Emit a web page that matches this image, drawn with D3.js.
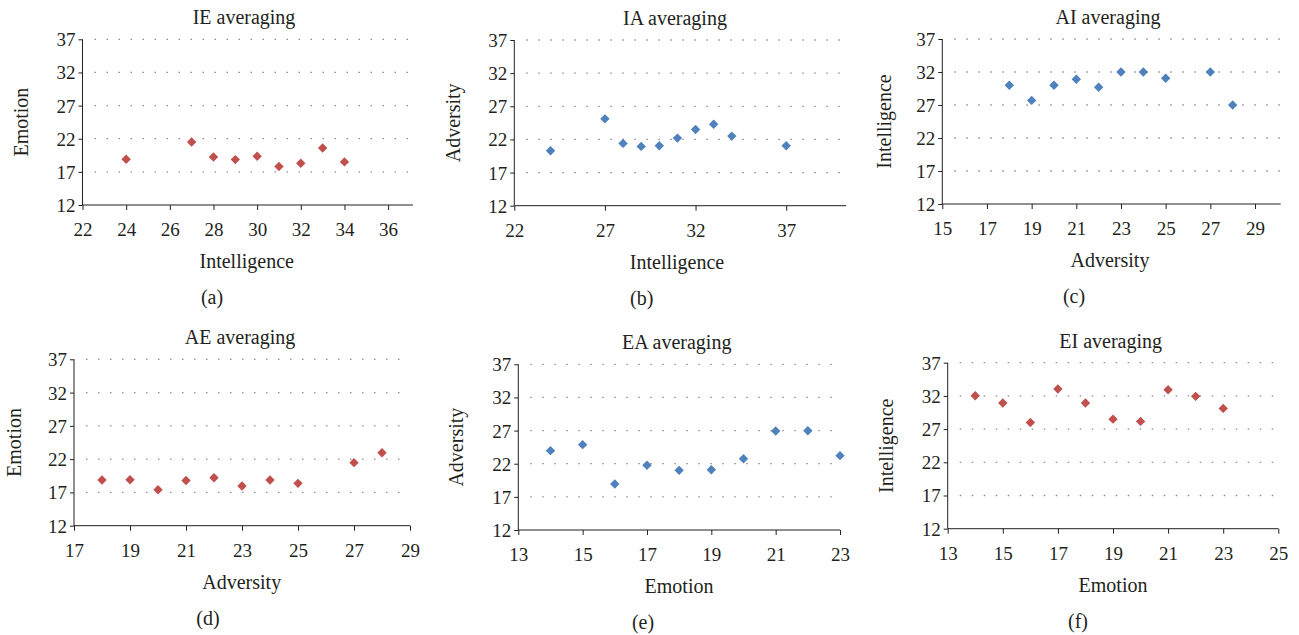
<!DOCTYPE html>
<html>
<head>
<meta charset="utf-8">
<script src="https://cdn.jsdelivr.net/npm/d3@7"></script>
<style>
  html, body { margin: 0; padding: 0; background: #fff; }
  svg { display: block; }
  text { font-family: "Liberation Serif", "Times New Roman", serif; fill: #231f20; }
</style>
</head>
<body>
<svg id="chart" width="1299" height="635"></svg>
<script>
// Shared value axis
const yTicks = [12, 17, 22, 27, 32, 37];

// (a) IE averaging: Intelligence vs Emotion
const ieX = [24, 27, 28, 29, 30, 31, 32, 33, 34];
const ieY = [18.9, 21.5, 19.25, 18.85, 19.35, 17.8, 18.3, 20.6, 18.5];
const ieTicks = [22, 24, 26, 28, 30, 32, 34, 36];

// (b) IA averaging: Intelligence vs Adversity
const iaX = [24, 27, 28, 29, 30, 31, 32, 33, 34, 37];
const iaY = [20.3, 25.1, 21.4, 20.95, 21.05, 22.2, 23.5, 24.3, 22.5, 21.05];
const iaTicks = [22, 27, 32, 37];

// (c) AI averaging: Adversity vs Intelligence
const aiX = [18, 19, 20, 21, 22, 23, 24, 25, 27, 28];
const aiY = [30.0, 27.7, 30.0, 30.9, 29.7, 32.0, 32.0, 31.05, 32.0, 27.0];
const aiTicks = [15, 17, 19, 21, 23, 25, 27, 29];

// (d) AE averaging: Adversity vs Emotion
const aeX = [18, 19, 20, 21, 22, 23, 24, 25, 27, 28];
const aeY = [18.86, 18.9, 17.4, 18.8, 19.2, 17.96, 18.86, 18.36, 21.47, 22.97];
const aeTicks = [17, 19, 21, 23, 25, 27, 29];

// (e) EA averaging: Emotion vs Adversity
const eaX = [14, 15, 16, 17, 18, 19, 20, 21, 22, 23];
const eaY = [23.97, 24.88, 18.94, 21.76, 21.0, 21.1, 22.76, 26.94, 26.97, 23.22];
const eaTicks = [13, 15, 17, 19, 21, 23];

// (f) EI averaging: Emotion vs Intelligence
const eiX = [14, 15, 16, 17, 18, 19, 20, 21, 22, 23];
const eiY = [32.03, 30.93, 28.0, 33.03, 30.93, 28.5, 28.16, 32.93, 31.93, 30.12];
const eiTicks = [13, 15, 17, 19, 21, 23, 25];

const RED = "#c0504d";
const BLUE = "#4f81bd";

const panels = [
  { title: "IE averaging", xLabel: "Intelligence", yLabel: "Emotion", caption: "(a)",
    xs: ieX, ys: ieY, xTicks: ieTicks, xDomain: [22, 37.14], color: RED,
    frame: { l: 82.5, r: 413, t: 39.3, b: 205 }, titleX: 244, xLabelX: 246.7, yLabelX: 21, captionX: 212 },
  { title: "IA averaging", xLabel: "Intelligence", yLabel: "Adversity", caption: "(b)",
    xs: iaX, ys: iaY, xTicks: iaTicks, xDomain: [22, 40.3], color: BLUE,
    frame: { l: 514.3, r: 846, t: 40, b: 205.7 }, titleX: 675, xLabelX: 677, yLabelX: 452.7, captionX: 641.7 },
  { title: "AI averaging", xLabel: "Adversity", yLabel: "Intelligence", caption: "(c)",
    xs: aiX, ys: aiY, xTicks: aiTicks, xDomain: [15, 30.15], color: BLUE,
    frame: { l: 942.3, r: 1280.7, t: 39, b: 204 }, titleX: 1108, xLabelX: 1110, yLabelX: 884, captionX: 1074 },
  { title: "AE averaging", xLabel: "Adversity", yLabel: "Emotion", caption: "(d)",
    xs: aeX, ys: aeY, xTicks: aeTicks, xDomain: [17, 29], color: RED,
    frame: { l: 74, r: 410, t: 359.3, b: 525.7 }, titleX: 240, xLabelX: 241.7, yLabelX: 14, captionX: 208 },
  { title: "EA averaging", xLabel: "Emotion", yLabel: "Adversity", caption: "(e)",
    xs: eaX, ys: eaY, xTicks: eaTicks, xDomain: [13, 23], color: BLUE,
    frame: { l: 518.3, r: 840, t: 364.3, b: 530 }, titleX: 676.7, xLabelX: 679, yLabelX: 456, captionX: 643 },
  { title: "EI averaging", xLabel: "Emotion", yLabel: "Intelligence", caption: "(f)",
    xs: eiX, ys: eiY, xTicks: eiTicks, xDomain: [13, 25], color: RED,
    frame: { l: 947.7, r: 1278.3, t: 362.7, b: 528.7 }, titleX: 1110.7, xLabelX: 1113, yLabelX: 886, captionX: 1078 }
];

const svg = d3.select("#chart");
const AXIS = "#231f20";
const diamond = r => `M0,${-r}L${r},0L0,${r}L${-r},0Z`;

panels.forEach(p => {
  const f = p.frame;
  const x = d3.scaleLinear().domain(p.xDomain).range([f.l, f.r]);
  const y = d3.scaleLinear().domain([12, 37]).range([f.b, f.t]);
  const g = svg.append("g");

  // dotted horizontal gridlines
  g.append("g").selectAll("line")
    .data(yTicks.filter(v => v !== 12))
    .join("line")
    .attr("x1", f.l + 12).attr("x2", f.r)
    .attr("y1", d => y(d)).attr("y2", d => y(d))
    .attr("stroke", "#8c8c8c").attr("stroke-width", 1.3)
    .attr("stroke-dasharray", "1.5 10.5");

  // y axis
  const yAxis = g.append("g")
    .attr("transform", `translate(${f.l},0)`)
    .call(d3.axisLeft(y).tickValues(yTicks).tickSize(4).tickPadding(3).tickFormat(d3.format("d")));
  yAxis.select(".domain").attr("stroke", AXIS).attr("d", `M0,${f.t}V${f.b}`);
  yAxis.selectAll(".tick line").attr("stroke", AXIS);
  yAxis.selectAll(".tick text")
    .style("font-size", "19px").attr("fill", AXIS).attr("dy", "0.34em");

  // x axis
  const xAxis = g.append("g")
    .attr("transform", `translate(0,${f.b})`)
    .call(d3.axisBottom(x).tickValues(p.xTicks).tickSize(5).tickPadding(0).tickFormat(d3.format("d")));
  xAxis.select(".domain").attr("stroke", AXIS).attr("d", `M${f.l},0H${f.r}`);
  xAxis.selectAll(".tick line").attr("stroke", AXIS);
  xAxis.selectAll(".tick text")
    .style("font-size", "19px").attr("fill", AXIS)
    .attr("y", 31).attr("dy", null);

  // diamond markers
  g.append("g").selectAll("path")
    .data(p.xs.map((v, i) => [v, p.ys[i]]))
    .join("path")
    .attr("d", diamond(4.7))
    .attr("transform", d => `translate(${x(d[0])},${y(d[1])})`)
    .attr("fill", p.color);

  // titles and labels
  g.append("text").attr("x", p.titleX).attr("y", f.t - 15)
    .attr("text-anchor", "middle").style("font-size", "20px").text(p.title);
  g.append("text").attr("x", p.xLabelX).attr("y", f.b + 63)
    .attr("text-anchor", "middle").style("font-size", "20px").text(p.xLabel);
  g.append("text")
    .attr("transform", `translate(${p.yLabelX},${(f.t + f.b) / 2}) rotate(-90)`)
    .attr("text-anchor", "middle").attr("dy", "0.34em")
    .style("font-size", "20px").text(p.yLabel);
  g.append("text").attr("x", p.captionX).attr("y", f.b + 99)
    .attr("text-anchor", "middle").style("font-size", "20px").text(p.caption);
});
</script>
</body>
</html>
